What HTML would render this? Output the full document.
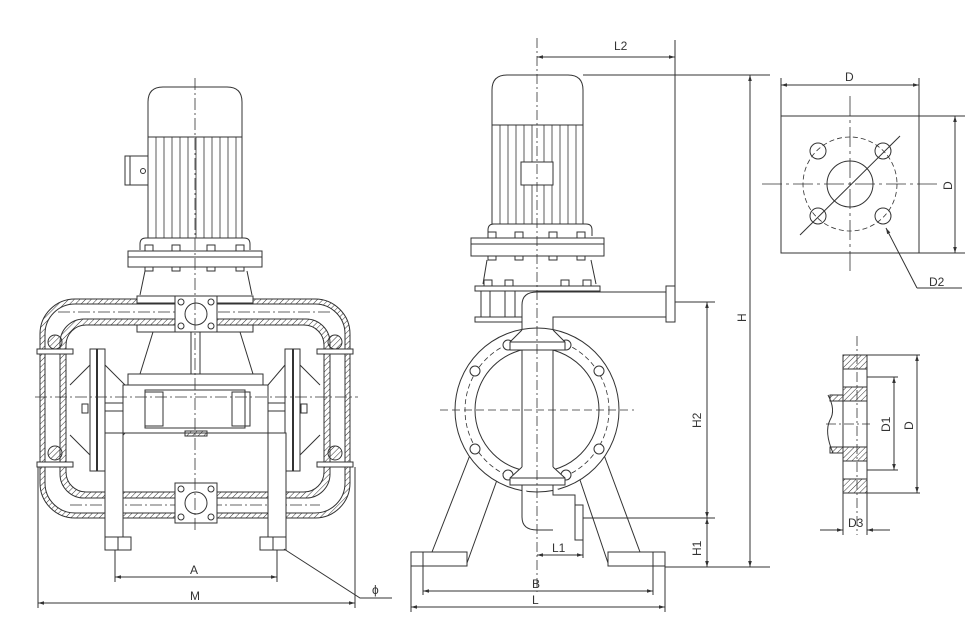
<!DOCTYPE html>
<html><head><meta charset="utf-8"><style>
html,body{margin:0;padding:0;background:#fff}
svg{display:block}
text{font-family:"Liberation Sans",sans-serif;font-size:12px;fill:#333}
</style></head><body>
<svg width="975" height="640" viewBox="0 0 975 640" xmlns="http://www.w3.org/2000/svg">
<defs>
<pattern id="h" width="4" height="4" patternUnits="userSpaceOnUse" patternTransform="rotate(45)"><line x1="0" y1="0" x2="0" y2="4" stroke="#333" stroke-width="1"/></pattern>
<marker id="a" viewBox="0 0 10 10" refX="10" refY="5" markerWidth="8" markerHeight="6" orient="auto-start-reverse"><path d="M0,2 L10,5 L0,8 z" fill="#333"/></marker>
</defs>
<g fill="none" stroke="#333" stroke-width="1">
<!-- ================= LEFT VIEW ================= -->
<path d="M148,137 V102 Q148,87 163,87 H227 Q242,87 242,102 V137 Z" fill="#fff"/>
<rect x="148" y="137" width="94" height="101" fill="#fff"/>
<g stroke-width="0.8">
<path d="M156,137V238M164,137V238M172,137V238M180,137V238M188,137V238M196,137V238M204,137V238M212,137V238M220,137V238M228,137V238M236,137V238"/>
</g>
<rect x="125" y="156" width="23" height="29" fill="#fff"/><line x1="130" y1="156" x2="130" y2="185"/><circle cx="143" cy="171" r="2.5"/>
<path d="M140,250 V244 Q140,238 146,238 H244 Q250,238 250,244 V250"/>
<rect x="128" y="251" width="134" height="16" fill="#fff"/><line x1="128" y1="257" x2="262" y2="257"/>
<g fill="#fff"><rect x="145" y="245" width="8" height="6"/><rect x="172" y="245" width="8" height="6"/><rect x="207" y="245" width="8" height="6"/><rect x="236" y="245" width="8" height="6"/>
<rect x="145" y="267" width="8" height="4"/><rect x="172" y="267" width="8" height="4"/><rect x="207" y="267" width="8" height="4"/><rect x="236" y="267" width="8" height="4"/></g>
<path d="M145,271 L140,295 M247,271 L252,295"/>
<!-- pipe loop -->
<rect x="40" y="299" width="310" height="219" rx="35" fill="url(#h)"/>
<rect x="45" y="304" width="300" height="209" rx="30" fill="#fff"/>
<rect x="60" y="319" width="270" height="179" rx="24" fill="url(#h)"/>
<rect x="66" y="325" width="258" height="167" rx="20" fill="#fff"/>
<g fill="#fff"><rect x="37" y="349" width="36" height="5"/><rect x="317" y="349" width="36" height="5"/><rect x="37" y="462" width="36" height="5"/><rect x="317" y="462" width="36" height="5"/></g>
<g fill="url(#h)"><circle cx="55" cy="342" r="7"/><circle cx="335" cy="342" r="7"/><circle cx="55" cy="453" r="7"/><circle cx="335" cy="453" r="7"/></g>
<line x1="58" y1="312" x2="332" y2="312" stroke-dasharray="12,3,2,3" stroke-width="0.8"/>
<line x1="70" y1="505" x2="320" y2="505" stroke-dasharray="12,3,2,3" stroke-width="0.8"/>
<rect x="137" y="296" width="116" height="7" fill="#fff"/><rect x="137" y="325" width="116" height="7" fill="#fff"/>
<rect x="175" y="296" width="42" height="36" fill="#fff"/><circle cx="196" cy="314" r="11"/>
<g><circle cx="181" cy="302" r="3"/><circle cx="211" cy="302" r="3"/><circle cx="181" cy="326" r="3"/><circle cx="211" cy="326" r="3"/></g>
<rect x="191" y="332" width="9" height="42" fill="#fff"/>
<path d="M153,332 L140,374 M240,332 L253,374"/>
<rect x="175" y="483" width="42" height="40" fill="#fff"/><circle cx="196" cy="503" r="11"/>
<g><circle cx="181" cy="489" r="3"/><circle cx="211" cy="489" r="3"/><circle cx="181" cy="517" r="3"/><circle cx="211" cy="517" r="3"/></g>
<!-- diaphragm chambers -->
<rect x="90" y="349" width="15" height="122" fill="#fff"/><line x1="97" y1="349" x2="97" y2="471" stroke-width="2"/>
<rect x="285" y="349" width="15" height="122" fill="#fff"/><line x1="293" y1="349" x2="293" y2="471" stroke-width="2"/>
<path d="M90,365 L70,385 M90,455 L70,435 M300,365 L320,385 M300,455 L320,435"/>
<path d="M105,365 L125,385 M105,455 L125,433 M285,365 L268,385 M285,455 L268,433"/>
<rect x="82" y="404" width="6" height="9"/><rect x="301" y="404" width="6" height="9"/>
<rect x="128" y="374" width="135" height="11" fill="#fff"/>
<rect x="123" y="385" width="145" height="48" fill="#fff"/>
<rect x="145" y="390" width="100" height="38"/><rect x="145" y="392" width="18" height="34"/><rect x="232" y="392" width="18" height="34"/>
<path d="M105,411H123M268,411H285M105,403H123M268,403H285"/>
<rect x="185" y="431" width="22" height="5" fill="url(#h)"/>
<line x1="35" y1="397" x2="358" y2="397" stroke-dasharray="12,3,2,3" stroke-width="0.8"/>
<g fill="#fff"><rect x="105" y="433" width="18" height="104"/><rect x="268" y="433" width="18" height="104"/>
<rect x="105" y="537" width="26" height="13"/><rect x="260" y="537" width="26" height="13"/></g>
<path d="M118,537V550M273,537V550"/>
<line x1="195" y1="78" x2="195" y2="530" stroke-dasharray="12,3,2,3" stroke-width="0.8"/>
<path d="M115,550V582M277,550V582M38,467V608M355,467V608"/>
<line x1="115" y1="577" x2="277" y2="577" marker-start="url(#a)" marker-end="url(#a)"/>
<line x1="38" y1="603" x2="355" y2="603" marker-start="url(#a)" marker-end="url(#a)"/>
<path d="M284,549 L360,598 H392"/>
<!-- ================= RIGHT VIEW ================= -->
<path d="M492,125 V90 Q492,75 507,75 H568 Q583,75 583,90 V125 Z" fill="#fff"/>
<rect x="492" y="125" width="91" height="99" fill="#fff"/>
<g stroke-width="0.8"><path d="M500,125V224M508,125V224M516,125V224M524,125V224M532,125V224M544,125V224M552,125V224M560,125V224M568,125V224M576,125V224"/></g>
<rect x="521" y="162" width="32" height="23" fill="#fff"/>
<path d="M488,236 V230 Q488,224 494,224 H586 Q592,224 592,230 V236"/>
<rect x="471" y="238" width="133" height="18" fill="#fff"/><line x1="471" y1="244" x2="604" y2="244"/>
<g fill="#fff"><rect x="488" y="232" width="8" height="6"/><rect x="515" y="232" width="8" height="6"/><rect x="549" y="232" width="8" height="6"/><rect x="577" y="232" width="8" height="6"/>
<rect x="488" y="256" width="8" height="4"/><rect x="515" y="256" width="8" height="4"/><rect x="549" y="256" width="8" height="4"/><rect x="577" y="256" width="8" height="4"/></g>
<path d="M487,260 L483,284 M591,260 L596,284"/>
<g fill="#fff"><rect x="484" y="280" width="8" height="6"/><rect x="505" y="280" width="8" height="6"/><rect x="561" y="280" width="8" height="6"/><rect x="583" y="280" width="8" height="6"/></g>
<rect x="475" y="286" width="125" height="5" fill="#fff"/><rect x="475" y="317" width="125" height="5" fill="#fff"/>
<path d="M481,291V317M490,291V317M505,291V317M515,291V317"/>
<path d="M522,340 V305 Q522,292 537,292 H666 M553,340 V317 H666" fill="#fff"/>
<rect x="666" y="286" width="9" height="36" fill="#fff"/>
<!-- ring -->
<path d="M470,455 L432,552 M497,480 L467,563 M604,455 L640,552 M580,480 L608,563"/>
<circle cx="537" cy="410" r="82" fill="#fff"/>
<circle cx="537" cy="410" r="72" stroke-dasharray="5,3" stroke-width="0.8"/>
<circle cx="537" cy="410" r="62"/>
<g fill="#fff"><circle cx="475" cy="371" r="5"/><circle cx="599" cy="371" r="5"/><circle cx="475" cy="449" r="5"/><circle cx="599" cy="449" r="5"/><circle cx="508" cy="345" r="5"/><circle cx="566" cy="345" r="5"/><circle cx="508" cy="475" r="5"/><circle cx="566" cy="475" r="5"/></g>
<rect x="522" y="345" width="31" height="128" fill="#fff"/>
<path d="M522,330 L510,342 V350 H565 V342 L553,330" fill="#fff"/><line x1="510" y1="342" x2="565" y2="342"/>
<path d="M522,467 L510,478 V485 H565 V478 L553,467" fill="#fff"/><line x1="510" y1="478" x2="565" y2="478"/>
<path d="M522,485 V517 Q522,530 537,530 H553 M553,485 V495 H575 V540 H583 V505 H575" fill="#fff"/>
<g fill="#fff"><rect x="411" y="552" width="56" height="14"/><rect x="608" y="552" width="57" height="14"/></g>
<path d="M423,552V566M653,552V566"/>
<line x1="440" y1="410" x2="634" y2="410" stroke-dasharray="8,4" stroke-width="0.8"/>
<line x1="537" y1="38" x2="537" y2="592" stroke-dasharray="10,3,2,3" stroke-width="0.8"/>
<path d="M675,40V302 M675,302H715 M583,75H770 M665,567H770 M583,518H715 M583,540V558"/>
<line x1="537" y1="57" x2="675" y2="57" marker-start="url(#a)" marker-end="url(#a)"/>
<line x1="750" y1="75" x2="750" y2="567" marker-start="url(#a)" marker-end="url(#a)"/>
<line x1="707" y1="302" x2="707" y2="518" marker-start="url(#a)" marker-end="url(#a)"/>
<line x1="707" y1="518" x2="707" y2="567" marker-start="url(#a)" marker-end="url(#a)"/>
<line x1="537" y1="555" x2="583" y2="555" marker-start="url(#a)" marker-end="url(#a)"/>
<path d="M423,566V595M653,566V595M411,566V612M665,566V612"/>
<line x1="423" y1="591" x2="653" y2="591" marker-start="url(#a)" marker-end="url(#a)"/>
<line x1="411" y1="607" x2="665" y2="607" marker-start="url(#a)" marker-end="url(#a)"/>
<!-- ================= TOP-RIGHT PLATE ================= -->
<rect x="781" y="116" width="138" height="137"/>
<circle cx="850" cy="184" r="47" stroke-dasharray="5,3" stroke-width="0.8"/>
<circle cx="850" cy="184" r="23"/>
<circle cx="818" cy="151" r="8"/><circle cx="883" cy="151" r="8"/><circle cx="818" cy="216" r="8"/><circle cx="883" cy="216" r="8"/>
<path d="M762,184H940M850,96V272" stroke-dasharray="20,4,3,4" stroke-width="0.8"/>
<line x1="800" y1="235" x2="900" y2="136"/>
<path d="M781,78V116M919,78V116M919,116H965M919,253H965"/>
<line x1="781" y1="85" x2="919" y2="85" marker-start="url(#a)" marker-end="url(#a)"/>
<line x1="955" y1="116" x2="955" y2="253" marker-start="url(#a)" marker-end="url(#a)"/>
<path d="M917,288 L886,228" marker-end="url(#a)"/><path d="M917,288H962"/>
<!-- ================= FLANGE SECTION ================= -->
<rect x="843" y="355" width="24" height="138" fill="#fff"/>
<g fill="url(#h)"><rect x="843" y="355" width="24" height="14"/><rect x="843" y="387" width="24" height="14"/><rect x="843" y="447" width="24" height="14"/><rect x="843" y="479" width="24" height="14"/>
<rect x="830" y="395" width="13" height="6"/><rect x="830" y="447" width="13" height="6"/></g>
<path d="M828,395 Q836,410 830,420 Q824,432 833,453"/>
<line x1="857" y1="336" x2="857" y2="535" stroke-dasharray="10,3,2,3" stroke-width="0.8"/>
<line x1="826" y1="424" x2="870" y2="424" stroke-dasharray="10,3,2,3" stroke-width="0.8"/>
<path d="M867,355H920M867,493H920M867,377H898M867,470H898M843,493V535M867,493V535"/>
<line x1="917" y1="355" x2="917" y2="493" marker-start="url(#a)" marker-end="url(#a)"/>
<line x1="894" y1="377" x2="894" y2="470" marker-start="url(#a)" marker-end="url(#a)"/>
<line x1="820" y1="530" x2="843" y2="530" marker-end="url(#a)"/>
<line x1="890" y1="530" x2="867" y2="530" marker-end="url(#a)"/>
</g>
<g>
<text x="190" y="574">A</text>
<text x="190" y="600">M</text>
<text x="372" y="594" font-size="10">ϕ</text>
<text x="614" y="50">L2</text>
<text x="552" y="552">L1</text>
<text x="532" y="588">B</text>
<text x="532" y="604">L</text>
<text transform="translate(746,322) rotate(-90)">H</text>
<text transform="translate(701,428) rotate(-90)">H2</text>
<text transform="translate(701,556) rotate(-90)">H1</text>
<text x="845" y="81">D</text>
<text transform="translate(952,190) rotate(-90)">D</text>
<text x="929" y="286">D2</text>
<text transform="translate(890,432) rotate(-90)">D1</text>
<text transform="translate(913,430) rotate(-90)">D</text>
<text x="848" y="527">D3</text>
</g>
</svg>
</body></html>
